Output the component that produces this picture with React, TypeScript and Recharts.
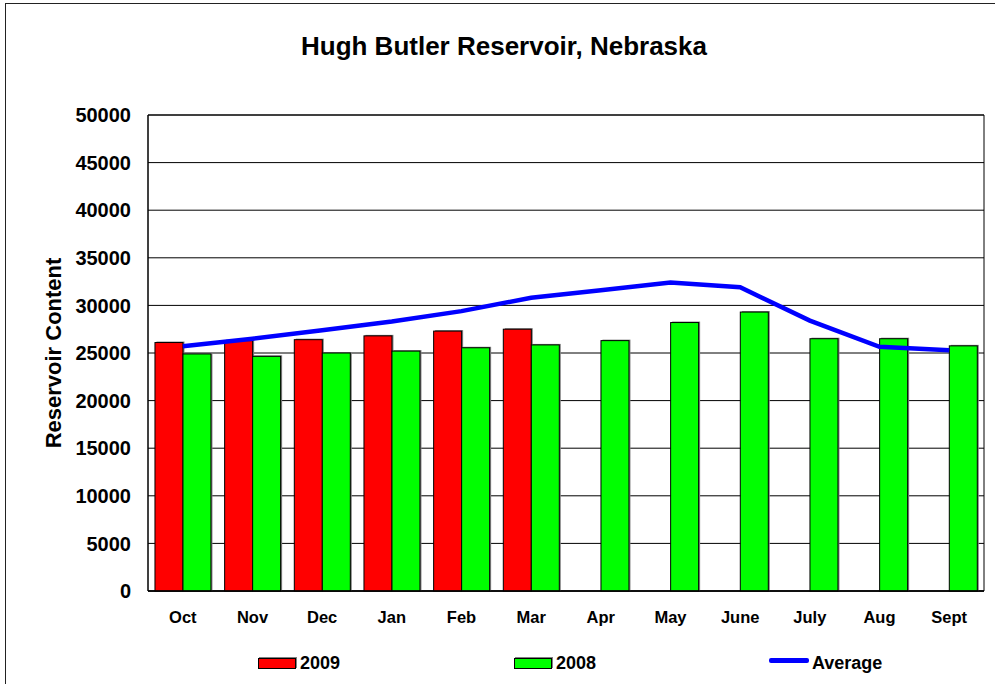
import React from 'react';
import { BarChart, Bar, Line, XAxis, YAxis, CartesianGrid, Legend, ReferenceArea } from 'recharts';

const months = ['Oct', 'Nov', 'Dec', 'Jan', 'Feb', 'Mar', 'Apr', 'May', 'June', 'July', 'Aug', 'Sept'];
const values2009 = [26100, 26300, 26400, 26800, 27300, 27500, null, null, null, null, null, null];
const values2008 = [24900, 24650, 25000, 25200, 25550, 25850, 26300, 28200, 29300, 26500, 26500, 25750];
const averageValues = [25700, 26500, 27400, 28300, 29400, 30800, 31600, 32400, 31900, 28400, 25650, 25300];
const yTicks = [0, 5000, 10000, 15000, 20000, 25000, 30000, 35000, 40000, 45000, 50000];

const chartData = months.map((m, i) => ({
  month: m,
  y2009: values2009[i],
  y2008: values2008[i],
  avg: averageValues[i],
}));

const FONT = '"Liberation Sans", Arial, sans-serif';

// bar with the little grey drop shadow the original has
function ShadowBar(props: any) {
  const { x, y, width, height, fill } = props;
  if (!height || height <= 0) return null;
  return (
    <g>
      <rect x={x + 1.5} y={y - 1} width={width} height={height + 1} fill="#808080" />
      <rect x={x} y={y} width={width} height={height} fill={fill} stroke="#000" strokeWidth={1} />
    </g>
  );
}

function ChartLegend() {
  const text: React.CSSProperties = {
    position: 'absolute', top: 4, fontSize: 18, fontWeight: 'bold', lineHeight: '18px', color: '#000',
  };
  return (
    <div style={{ position: 'relative', width: 995, height: 30, fontFamily: FONT }}>
      <div style={{ position: 'absolute', left: 258, top: 8, width: 38, height: 11, background: '#ff0000', border: '1px solid #000', boxSizing: 'border-box', boxShadow: '1px -1px 0 #808080' }} />
      <span style={{ ...text, left: 300 }}>2009</span>
      <div style={{ position: 'absolute', left: 514, top: 8, width: 38, height: 11, background: '#00ff00', border: '1px solid #000', boxSizing: 'border-box', boxShadow: '1px -1px 0 #808080' }} />
      <span style={{ ...text, left: 556 }}>2008</span>
      <div style={{ position: 'absolute', left: 769, top: 8, width: 40, height: 4.5, background: '#0000ff', borderRadius: 2 }} />
      <span style={{ ...text, left: 812 }}>Average</span>
    </div>
  );
}

export default function App() {
  return (
    <div style={{ position: 'absolute', left: 0, top: 0, width: 995, height: 684, background: '#fff', fontFamily: FONT, overflow: 'hidden' }}>
      <div style={{ position: 'absolute', left: 5, top: 3, width: 1000, height: 700, border: '1.5px solid #222' }} />
      <div style={{ position: 'absolute', left: 0, top: 34, width: 1008, textAlign: 'center', fontSize: 26, fontWeight: 'bold', lineHeight: '25px', color: '#000' }}>
        Hugh Butler Reservoir, Nebraska
      </div>
      <BarChart
        width={995}
        height={684}
        data={chartData}
        margin={{ top: 115, right: 11, bottom: 63, left: 0 }}
        barCategoryGap="10%"
        barGap={0}
        style={{ position: 'absolute', left: 0, top: 0 }}
      >
        <CartesianGrid vertical={false} stroke="#000" strokeWidth={1} />
        <ReferenceArea y1={0} y2={50000} fill="none" stroke="#000" strokeWidth={1} ifOverflow="visible" />
        <XAxis
          dataKey="month"
          height={30}
          tickLine={false}
          axisLine={{ stroke: '#000', strokeWidth: 1.5 }}
          tickMargin={14}
          tick={{ fill: '#000', fontSize: 16.5, fontWeight: 'bold', fontFamily: FONT }}
        />
        <YAxis
          width={148}
          domain={[0, 50000]}
          ticks={yTicks}
          interval={0}
          tickLine={false}
          axisLine={{ stroke: '#000', strokeWidth: 1 }}
          tickMargin={11}
          tick={{ fill: '#000', fontSize: 20, fontWeight: 'bold', fontFamily: FONT }}
          label={{
            value: 'Reservoir Content',
            angle: -90,
            position: 'insideLeft',
            offset: 53,
            style: { textAnchor: 'middle', fill: '#000', fontSize: 22, fontWeight: 'bold', fontFamily: FONT },
          }}
        />
        <Legend
          verticalAlign="middle"
          align="center"
          layout="horizontal"
          content={() => <ChartLegend />}
          wrapperStyle={{ left: 0, top: 650, width: 995, height: 30 }}
        />
        <Bar dataKey="y2009" name="2009" fill="#ff0000" shape={ShadowBar} isAnimationActive={false} />
        <Bar dataKey="y2008" name="2008" fill="#00ff00" shape={ShadowBar} isAnimationActive={false} />
        <Line
          type="linear"
          dataKey="avg"
          name="Average"
          stroke="#0000ff"
          strokeWidth={4.5}
          dot={false}
          activeDot={false}
          isAnimationActive={false}
        />
      </BarChart>
    </div>
  );
}
